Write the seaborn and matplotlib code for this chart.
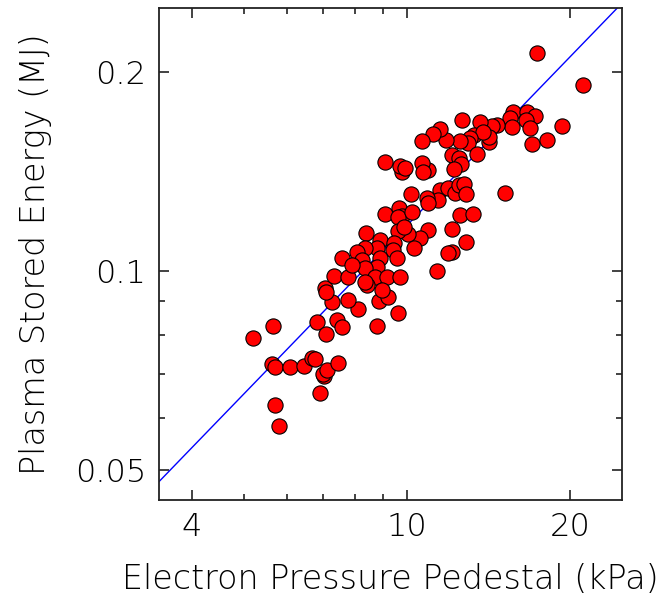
import matplotlib
matplotlib.use("Agg")
import matplotlib.pyplot as plt
import matplotlib.ticker as mticker
import pandas as pd
import seaborn as sns

# pedestal pressure (kPa) vs stored energy (MJ)
pressure = [
    17.34, 21.06, 15.70, 16.62, 17.21, 16.53, 15.48, 15.59, 16.82, 19.33,
    17.00, 18.14, 14.63, 14.32, 13.62, 12.59, 13.28, 14.15, 14.13, 13.80,
    13.05, 12.94, 12.51, 11.81, 11.49, 11.17, 10.63, 13.43, 12.07, 12.46,
    12.56, 12.20, 10.93, 10.63, 10.70, 9.76, 9.69, 9.92, 9.10, 15.15,
    11.49, 11.90, 12.25, 12.46, 12.70, 12.84, 11.41, 10.16, 10.86, 10.93,
    9.10, 9.67, 9.77, 9.62, 10.19, 12.51, 13.20, 12.08, 10.93, 10.57,
    10.04, 9.62, 9.87, 8.38, 8.91, 8.78, 8.35, 9.46, 9.42, 9.56,
    10.30, 8.07, 8.24, 8.91, 8.78, 8.35, 8.72, 9.16, 9.69, 11.33,
    12.08, 11.90, 12.81, 8.11, 8.80, 9.62, 8.87, 9.20, 8.41, 8.35,
    8.97, 5.20, 5.65, 5.63, 5.71, 6.07, 6.45, 6.66, 6.76, 7.03,
    6.98, 7.12, 7.44, 6.91, 5.69, 5.80, 6.80, 7.07, 7.41, 7.59,
    7.25, 7.05, 7.07, 7.33, 7.78, 7.78, 7.59, 7.89,
]
energy = [
    0.2132, 0.1906, 0.1740, 0.1740, 0.1714, 0.1691, 0.1701, 0.1649, 0.1644, 0.1658,
    0.1555, 0.1577, 0.1662, 0.1656, 0.1681, 0.1688, 0.1602, 0.1568, 0.1596, 0.1624,
    0.1588, 0.1558, 0.1572, 0.1577, 0.1638, 0.1610, 0.1572, 0.1502, 0.1497, 0.1480,
    0.1451, 0.1426, 0.1421, 0.1458, 0.1413, 0.1409, 0.1438, 0.1431, 0.1463, 0.1311,
    0.1325, 0.1333, 0.1311, 0.1349, 0.1353, 0.1306, 0.1280, 0.1307, 0.1288, 0.1266,
    0.1218, 0.1244, 0.1212, 0.1208, 0.1228, 0.1215, 0.1219, 0.1158, 0.1155, 0.1121,
    0.1136, 0.1149, 0.1167, 0.1140, 0.1114, 0.1084, 0.1082, 0.1101, 0.1076, 0.1045,
    0.1082, 0.1069, 0.1039, 0.1045, 0.1015, 0.1009, 0.0979, 0.0978, 0.0980, 0.1000,
    0.1069, 0.1063, 0.1105, 0.0876, 0.0827, 0.0863, 0.0902, 0.0914, 0.0953, 0.0963,
    0.0936, 0.0791, 0.0827, 0.0723, 0.0716, 0.0717, 0.0719, 0.0740, 0.0736, 0.0693,
    0.0698, 0.0709, 0.0726, 0.0655, 0.0627, 0.0584, 0.0837, 0.0802, 0.0843, 0.0824,
    0.0897, 0.0942, 0.0929, 0.0983, 0.0980, 0.0904, 0.1045, 0.1021,
]

# fitted power-law line, two end points (straight on log-log axes)
fit_x = [3.0, 30.0]
fit_y = [0.0424, 0.297]

x_major = [4, 10, 20]
x_minor = [5, 6, 7, 8, 9]
y_major = [0.05, 0.1, 0.2]
y_minor = [0.06, 0.07, 0.08, 0.09]
y_labels = ["0.05", "0.1", "0.2"]

sns.set_style("ticks")
plt.rcParams["font.family"] = ["DejaVu Sans"]
plt.rcParams["text.color"] = "black"
plt.rcParams["axes.labelcolor"] = "black"
plt.rcParams["xtick.labelcolor"] = "black"
plt.rcParams["ytick.labelcolor"] = "black"

df = pd.DataFrame({"pressure": pressure, "energy": energy})

fig = plt.figure(figsize=(6.63, 5.97), dpi=100)
ax = fig.add_axes([0.2398, 0.1625, 0.6983, 0.8241])
ax.set_xscale("log")
ax.set_yscale("log")

sns.lineplot(x=fit_x, y=fit_y, ax=ax, color="#0000ff", linewidth=1.0, zorder=1)
sns.scatterplot(data=df, x="pressure", y="energy", ax=ax, s=120,
                color="#ff0000", edgecolor="black", linewidth=0.8, zorder=2)

ax.set_xlim(3.48, 24.9)
ax.set_ylim(0.0451, 0.2495)

ax.xaxis.set_major_locator(mticker.FixedLocator(x_major))
ax.xaxis.set_minor_locator(mticker.FixedLocator(x_minor))
ax.xaxis.set_major_formatter(mticker.FixedFormatter([str(v) for v in x_major]))
ax.xaxis.set_minor_formatter(mticker.NullFormatter())
ax.yaxis.set_major_locator(mticker.FixedLocator(y_major))
ax.yaxis.set_minor_locator(mticker.FixedLocator(y_minor))
ax.yaxis.set_major_formatter(mticker.FixedFormatter(y_labels))
ax.yaxis.set_minor_formatter(mticker.NullFormatter())

ax.tick_params(which="both", direction="in", top=True, right=True,
               color="#222222", width=1.2)
ax.tick_params(which="major", length=7, labelsize=23, pad=9)
ax.tick_params(which="minor", length=4.5)
for lab in ax.get_xticklabels() + ax.get_yticklabels():
    lab.set_fontweight("light")

for sp in ax.spines.values():
    sp.set_linewidth(1.3)
    sp.set_color("#222222")

ax.set_xlabel("Electron Pressure Pedestal (kPa)", fontsize=24,
              fontweight="light", labelpad=15)
ax.set_ylabel("Plasma Stored Energy (MJ)", fontsize=24,
              fontweight="light", labelpad=17)

fig.savefig("out.png", dpi=100)
plt.close(fig)
